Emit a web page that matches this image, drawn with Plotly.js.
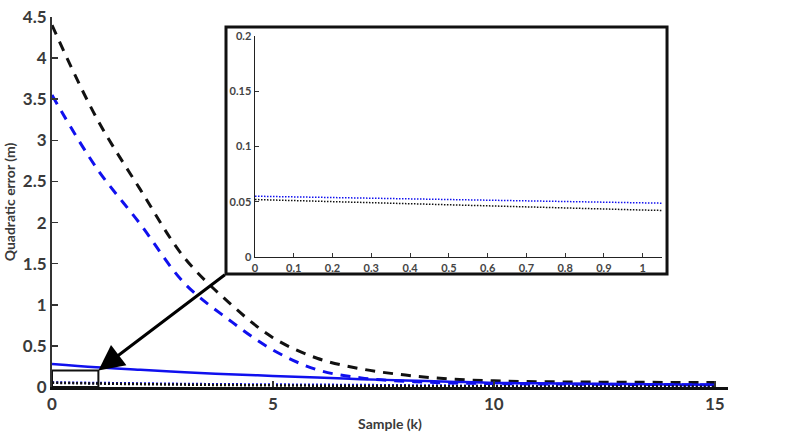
<!DOCTYPE html>
<html>
<head>
<meta charset="utf-8">
<script src="https://cdn.plot.ly/plotly-3.0.1.min.js"></script>
<style>html,body{margin:0;padding:0;background:#fff;}#chart{width:802px;height:443px;}</style>
</head>
<body>
<div id="chart"></div>
<script>
// ---- data ----
const samples = [0,1,2,3,4,5,6,7,8,9,10,11,12,13,14,15];
const blackDashed = [4.40,3.28,2.40,1.57,1.03,0.60,0.35,0.22,0.145,0.097,0.075,0.065,0.060,0.058,0.056,0.055];
const blueDashed  = [3.55,2.67,1.98,1.26,0.82,0.45,0.21,0.11,0.07,0.05,0.042,0.037,0.034,0.031,0.029,0.028];
const blueSolid   = [0.28,0.24,0.21,0.18,0.155,0.135,0.115,0.095,0.08,0.065,0.05,0.045,0.04,0.035,0.03,0.028];
const blueDotted  = [0.055,0.049,0.043,0.037,0.033,0.030,0.027,0.024,0.020,0.017,0.015,0.013,0.012,0.011,0.010,0.010];
const blackDotted = [0.052,0.0425,0.035,0.029,0.024,0.020,0.016,0.013,0.011,0.009,0.008,0.007,0.006,0.005,0.005,0.004];

const mainXRange = [0, 15.3];
const mainYRange = [0, 4.5];
const insetXRange = [0, 1.05];
const insetYRange = [0, 0.2];
const mainYTicks = [0,0.5,1,1.5,2,2.5,3,3.5,4,4.5];
const mainXTicks = [0,5,10,15];
const insetXTicks = [0,0.1,0.2,0.3,0.4,0.5,0.6,0.7,0.8,0.9,1];
const insetYTicks = [0,0.05,0.1,0.15,0.2];

const BLUE = '#1010ee';
const BLACK = '#111111';

function series(y, color, dash, width, xa, ya, shape) {
  return {x: samples, y: y, type: 'scatter', mode: 'lines',
    line: {color: color, dash: dash, width: width, shape: shape || 'spline'},
    xaxis: xa, yaxis: ya, showlegend: false, hoverinfo: 'skip', cliponaxis: true};
}

const traces = [
  series(blackDashed, BLACK, '10px,8px', 3, 'x', 'y'),
  series(blueDashed, BLUE, '10px,8px', 3, 'x', 'y'),
  series(blueSolid, BLUE, 'solid', 2.5, 'x', 'y'),
  series(blueDotted, BLUE, '2px,2px', 2.5, 'x', 'y'),
  series(blackDotted, BLACK, '2px,2px', 2.5, 'x', 'y'),
  series(blueDotted, BLUE, '1.5px,1.5px', 1.5, 'x2', 'y2', 'linear'),
  series(blackDotted, BLACK, '1.5px,1.5px', 1.5, 'x2', 'y2', 'linear'),
  series(blueSolid, BLUE, 'solid', 2, 'x2', 'y2', 'linear'),
];

const tickFont = {family: 'Lato, "Open Sans", sans-serif', size: 17, color: '#3a3a3a', weight: 'bold'};
const insetFont = {family: 'Lato, "Open Sans", sans-serif', size: 11, color: '#444', weight: 'bold'};
const titleFont = {family: 'Lato, "Open Sans", sans-serif', size: 14, color: '#3a3a3a', weight: 'bold'};

const layout = {
  width: 802, height: 443,
  margin: {l: 52, r: 74, t: 17, b: 56},
  paper_bgcolor: '#fff', plot_bgcolor: 'rgba(0,0,0,0)',
  showlegend: false,
  xaxis: {
    range: mainXRange, tickvals: mainXTicks, ticktext: mainXTicks.map(String),
    ticks: 'inside', ticklen: 6, tickwidth: 1.5, tickcolor: '#333',
    showline: true, linecolor: '#111', linewidth: 3, showgrid: false, zeroline: false,
    tickfont: tickFont, domain: [0, 1], anchor: 'y',
    title: {text: 'Sample (k)', font: titleFont, standoff: 6}
  },
  yaxis: {
    range: mainYRange, tickvals: mainYTicks, ticktext: mainYTicks.map(String),
    ticks: 'inside', ticklen: 6, tickwidth: 1.5, tickcolor: '#333',
    showline: true, linecolor: '#333', linewidth: 2, showgrid: false, zeroline: false,
    tickfont: tickFont, domain: [0, 1], anchor: 'x',
    title: {text: 'Quadratic error (m)', font: titleFont, standoff: 4}
  },
  xaxis2: {
    range: insetXRange, tickvals: insetXTicks, ticktext: insetXTicks.map(String),
    ticks: 'inside', ticklen: 4, tickwidth: 1, tickcolor: '#333',
    showline: true, linecolor: '#222', linewidth: 1.5, showgrid: false, zeroline: false,
    tickfont: insetFont, domain: [0.3003, 0.9024], anchor: 'y2'
  },
  yaxis2: {
    range: insetYRange, tickvals: insetYTicks, ticktext: insetYTicks.map(String),
    ticks: 'inside', ticklen: 4, tickwidth: 1, tickcolor: '#333',
    showline: true, linecolor: '#222', linewidth: 1.5, showgrid: false, zeroline: false,
    tickfont: insetFont, domain: [0.3514, 0.9486], anchor: 'x2'
  },
  shapes: [
    {type: 'rect', xref: 'paper', yref: 'paper', x0: 0.2574, x1: 0.9098, y0: 0.3054, y1: 0.973,
     line: {color: '#111', width: 3}, fillcolor: 'rgba(0,0,0,0)', layer: 'above'},
    {type: 'rect', xref: 'x', yref: 'y', x0: insetXRange[0], x1: insetXRange[1], y0: insetYRange[0], y1: insetYRange[1],
     line: {color: '#111', width: 2}, fillcolor: 'rgba(0,0,0,0)', layer: 'above'}
  ],
  annotations: [
    {x: insetXRange[1], y: insetYRange[1], xref: 'x', yref: 'y', text: '', showarrow: true,
     ax: 128, ay: -97, axref: 'pixel', ayref: 'pixel',
     arrowhead: 2, arrowsize: 1.7, arrowwidth: 3, arrowcolor: '#000', standoff: 0}
  ]
};

Plotly.newPlot('chart', traces, layout, {staticPlot: true, displayModeBar: false});
</script>
</body>
</html>
